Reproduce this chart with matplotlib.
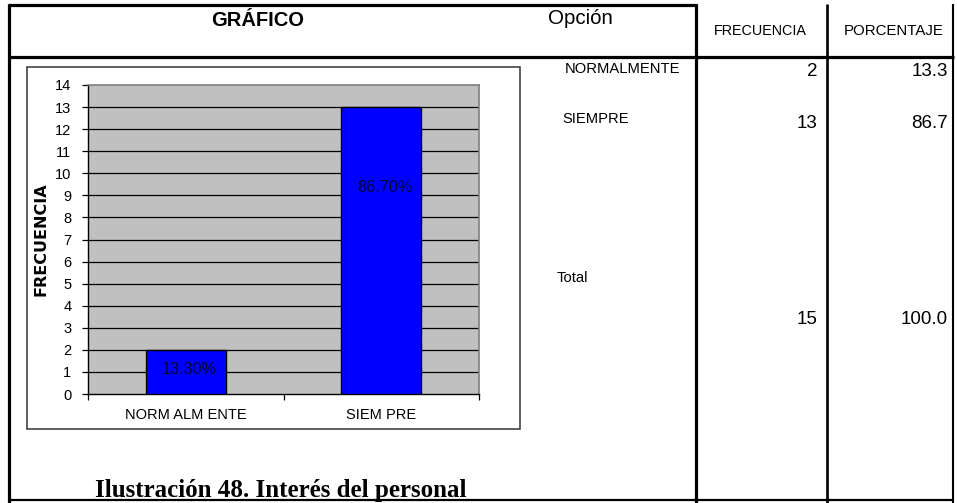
import matplotlib
matplotlib.use("Agg")
import matplotlib.pyplot as plt
from matplotlib.lines import Line2D
from matplotlib.patches import Rectangle
import numpy as np

# ---- data ----
categories = ["NORM ALM ENTE", "SIEM PRE"]
frecuencia = [2, 13]
bar_labels = ["13.30%", "86.70%"]
y_ticks = list(range(0, 15))

table_options = ["NORMALMENTE", "SIEMPRE", "Total"]
table_freq = ["2", "13", "15"]
table_pct = ["13.3", "86.7", "100.0"]

W, H = 957, 503
fig = plt.figure(figsize=(W / 100, H / 100), dpi=100)
fig.patch.set_facecolor("white")

def fx(px):
    return px / W

def fy(py):
    return 1 - py / H

def hline(y, x0, x1, lw):
    fig.add_artist(Line2D([fx(x0), fx(x1)], [fy(y), fy(y)], color="black", lw=lw,
                          solid_capstyle="butt"))

def vline(x, y0, y1, lw):
    fig.add_artist(Line2D([fx(x), fx(x)], [fy(y0), fy(y1)], color="black", lw=lw,
                          solid_capstyle="butt"))

# ---- table frame ----
hline(5, 8, 697, 2.3)
vline(9, 4, 503, 2.3)
hline(57, 8, 954, 2.3)
vline(696, 4, 503, 2.3)
vline(827, 4, 503, 1.9)
vline(953, 4, 503, 1.5)
hline(500, 8, 954, 1.6)

# ---- chart frame ----
fig.add_artist(Rectangle((fx(27), fy(429)), fx(520) - fx(27), fy(67) - fy(429),
                         fill=False, edgecolor="#333333", lw=1.1))

# ---- chart ----
ax = fig.add_axes([fx(88), fy(394), fx(479) - fx(88), fy(85) - fy(394)])
ax.set_facecolor("#C0C0C0")
x = np.arange(len(categories))
ax.bar(x, frecuencia, width=0.41, color="#0000FF", edgecolor="black", lw=1.0, zorder=3)
ax.set_xlim(-0.5, len(categories) - 0.5)
ax.set_ylim(0, 14)
ax.set_yticks(y_ticks)
ax.set_yticklabels([str(t) for t in y_ticks], fontsize=10.5, family="Liberation Sans")
for t in y_ticks[1:-1]:
    ax.axhline(t, color="black", lw=0.9, zorder=1)
ax.set_xticks(x)
ax.set_xticklabels(categories, fontsize=10.5, family="Liberation Sans")
ax.set_xticks(np.arange(len(categories) + 1) - 0.5, minor=True)
ax.tick_params(axis="x", which="major", length=0, pad=10)
ax.tick_params(axis="x", which="minor", length=4, direction="out", width=0.9)
ax.tick_params(axis="y", length=4, direction="out", width=0.9, pad=8)
for s in ["top", "right"]:
    ax.spines[s].set_color("#808080")
    ax.spines[s].set_linewidth(1.2)
for s in ["left", "bottom"]:
    ax.spines[s].set_color("black")
    ax.spines[s].set_linewidth(1.0)

label_y = [1.1, 9.35]
for xi, lab, ly in zip(x, bar_labels, label_y):
    ax.text(xi + 0.02, ly, lab, ha="center", va="center", fontsize=11.7,
            color="#000033", family="Liberation Sans", zorder=4)

fig.text(fx(41), fy(239), "FRECUENCIA", rotation=90, ha="center", va="center",
         fontsize=11.5, fontweight="bold", family="DejaVu Sans")

# ---- headers ----
fig.text(fx(258), fy(20), "GRÁFICO", ha="center", va="center", fontsize=14.5,
         fontweight="bold", family="Liberation Sans")
fig.text(fx(548), fy(19), "Opción", ha="left", va="center", fontsize=14.8,
         family="Liberation Sans")
fig.text(fx(760), fy(31), "FRECUENCIA", ha="center", va="center", fontsize=10.4,
         family="Liberation Sans")
fig.text(fx(894), fy(31), "PORCENTAJE", ha="center", va="center", fontsize=10.8,
         family="Liberation Sans")

# ---- table rows ----
opt_pos = [(565, 69), (562, 119), (557, 278)]
num_y = [72, 123, 320]
for (ox, oy), opt in zip(opt_pos, table_options):
    fig.text(fx(ox), fy(oy), opt, ha="left", va="center", fontsize=10.6,
             family="Liberation Sans")
for ny, fq, pc in zip(num_y, table_freq, table_pct):
    fig.text(fx(817), fy(ny), fq, ha="right", va="center", fontsize=13.5,
             family="Liberation Sans")
    fig.text(fx(948), fy(ny), pc, ha="right", va="center", fontsize=13.5,
             family="Liberation Sans")

# ---- caption ----
fig.text(fx(95), fy(490), "Ilustración 48. Interés del personal", ha="left", va="center",
         fontsize=18, fontweight="bold", family="Liberation Serif")

fig.savefig("out.png", dpi=100)
